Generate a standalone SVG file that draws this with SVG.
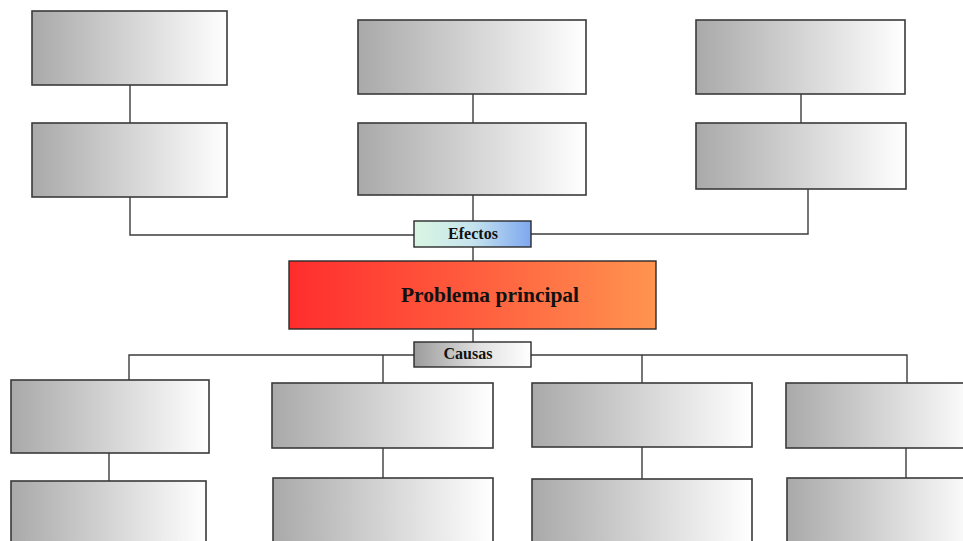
<svg xmlns="http://www.w3.org/2000/svg" width="963" height="541" viewBox="0 0 963 541">
  <defs>
    <linearGradient id="gGray" x1="0" y1="0" x2="1" y2="0">
      <stop offset="0" stop-color="#a9a9a9"/>
      <stop offset="0.5" stop-color="#d4d4d4"/>
      <stop offset="1" stop-color="#ffffff"/>
    </linearGradient>
    <linearGradient id="gEfectos" x1="0" y1="0" x2="1" y2="0">
      <stop offset="0" stop-color="#d9f6e2"/>
      <stop offset="0.5" stop-color="#c6e4ee"/>
      <stop offset="1" stop-color="#7ea8f0"/>
    </linearGradient>
    <linearGradient id="gProblema" x1="0" y1="0" x2="1" y2="0">
      <stop offset="0" stop-color="#ff2d2d"/>
      <stop offset="0.5" stop-color="#ff5d3e"/>
      <stop offset="1" stop-color="#ff9450"/>
    </linearGradient>
    <linearGradient id="gCausas" x1="0" y1="0" x2="1" y2="0">
      <stop offset="0" stop-color="#9c9c9c"/>
      <stop offset="0.55" stop-color="#e0e0e0"/>
      <stop offset="1" stop-color="#ffffff"/>
    </linearGradient>
  </defs>
  <style>
    .box { fill: url(#gGray); stroke: #3a3a3a; stroke-width: 1.6; }
    .lbl { stroke: #2a2a2a; stroke-width: 1.4; }
    .wire { fill: none; stroke: #3c3c3c; stroke-width: 1.4; }
    .t { font-family: "Liberation Serif", "Times New Roman", serif; font-weight: bold; fill: #111; text-anchor: middle; }
  </style>

  <rect width="963" height="541" fill="#ffffff"/>

  <!-- connectors -->
  <g id="connectors" class="wire">
    <!-- effects side -->
    <path d="M130 85 V123"/>
    <path d="M130 197 V235 H414"/>
    <path d="M473 94 V123"/>
    <path d="M473 195 V221"/>
    <path d="M801 94 V123"/>
    <path d="M808 189 V234 H531"/>
    <path d="M473 247 V261"/>
    <!-- causes side -->
    <path d="M473 329 V342"/>
    <path d="M414 355 H129 V380"/>
    <path d="M531 355 H907 V383"/>
    <path d="M383 355 V383"/>
    <path d="M642 355 V383"/>
    <path d="M109 453 V481"/>
    <path d="M383 448 V478"/>
    <path d="M642 447 V479"/>
    <path d="M906 448 V478"/>
  </g>

  <!-- effects column left -->
  <g id="efecto-1a"><rect class="box" x="32" y="11" width="195" height="74"/></g>
  <g id="efecto-1b"><rect class="box" x="32" y="123" width="195" height="74"/></g>
  <!-- effects column middle -->
  <g id="efecto-2a"><rect class="box" x="358" y="20" width="228" height="74"/></g>
  <g id="efecto-2b"><rect class="box" x="358" y="123" width="228" height="72"/></g>
  <!-- effects column right -->
  <g id="efecto-3a"><rect class="box" x="696" y="20" width="209" height="74"/></g>
  <g id="efecto-3b"><rect class="box" x="696" y="123" width="210" height="66"/></g>

  <!-- section labels and central problem -->
  <g id="efectos">
    <rect class="lbl" x="414" y="221" width="117" height="26" fill="url(#gEfectos)"/>
    <text class="t" x="473" y="239" font-size="16">Efectos</text>
  </g>
  <g id="problema">
    <rect class="lbl" x="289" y="261" width="367" height="68" fill="url(#gProblema)"/>
    <text class="t" x="490" y="302" font-size="21.5">Problema principal</text>
  </g>
  <g id="causas">
    <rect class="lbl" x="414" y="342" width="117" height="25" fill="url(#gCausas)"/>
    <text class="t" x="468" y="359" font-size="16">Causas</text>
  </g>

  <!-- causes columns -->
  <g id="causa-1a"><rect class="box" x="11" y="380" width="198" height="73"/></g>
  <g id="causa-1b"><rect class="box" x="11" y="481" width="195" height="70"/></g>
  <g id="causa-2a"><rect class="box" x="272" y="383" width="221" height="65"/></g>
  <g id="causa-2b"><rect class="box" x="273" y="478" width="220" height="73"/></g>
  <g id="causa-3a"><rect class="box" x="532" y="383" width="220" height="64"/></g>
  <g id="causa-3b"><rect class="box" x="532" y="479" width="220" height="72"/></g>
  <g id="causa-4a"><rect class="box" x="786" y="383" width="190" height="65"/></g>
  <g id="causa-4b"><rect class="box" x="787" y="478" width="190" height="73"/></g>
</svg>
